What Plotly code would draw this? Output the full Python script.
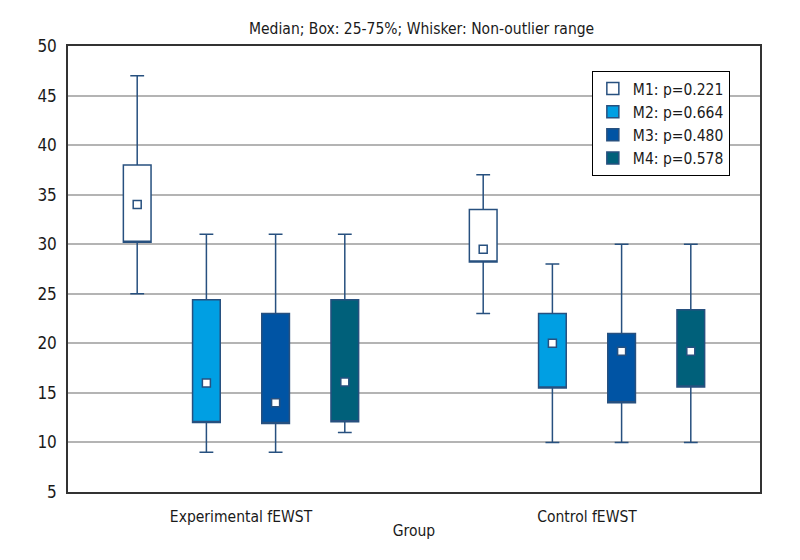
import plotly.graph_objects as go

groups = ["Experimental fEWST", "Control fEWST"]
series = ["M1: p=0.221", "M2: p=0.664", "M3: p=0.480", "M4: p=0.578"]
colors = ["#ffffff", "#009fe3", "#0054a4", "#00607a"]

# per series: [experimental, control]
lower = [[25, 23], [9, 10], [9, 10], [11, 10]]
q1 = [[30.2, 28.2], [12, 15.5], [11.9, 14], [12.1, 15.6]]
median = [[34, 29.5], [16, 20], [14, 19.2], [16.1, 19.2]]
q3 = [[38, 33.5], [24.4, 23], [23, 21], [24.4, 23.4]]
upper = [[47, 37], [31, 28], [31, 30], [31, 30]]

FONT = ("Liberation Sans Narrow, DejaVu Sans Condensed, Noto Sans Condensed, "
        "Roboto Condensed, Open Sans Condensed, Roboto, sans-serif")
LINE = "#27507f"

fig = go.Figure()
for i, name in enumerate(series):
    # median passed as q1 so plotly's median line hides on the box edge;
    # the real median is drawn as a square marker below
    fig.add_trace(go.Box(
        x=groups, q1=q1[i], median=q1[i], q3=q3[i],
        lowerfence=lower[i], upperfence=upper[i],
        name=name, offsetgroup=str(i), alignmentgroup="a",
        fillcolor=colors[i], line=dict(color=LINE, width=1.5),
        whiskerwidth=0.5, boxpoints=False, hoverinfo="skip"))
    fig.add_trace(go.Scatter(
        x=groups, y=median[i], mode="markers", showlegend=False,
        offsetgroup=str(i), alignmentgroup="a", name=name,
        marker=dict(symbol="square", size=8, color="white",
                    line=dict(color=LINE, width=1.5))))

# page body has an 8px margin, so margins are shifted by that much
fig.update_layout(
    width=800, height=560, plot_bgcolor="white", paper_bgcolor="white",
    boxmode="group", boxgap=0.2, boxgroupgap=0.6,
    scattermode="group", scattergap=0.2,
    margin=dict(l=60, r=48, t=38, b=76),
    font=dict(family=FONT, size=15.5, color="#1a1a1a"),
    title=dict(text="Median; Box: 25-75%; Whisker: Non-outlier range",
               x=0.517, xanchor="center", y=0.9625, yanchor="middle",
               font=dict(size=15.5)),
    legend=dict(x=0.757, y=0.944, xanchor="left", yanchor="top",
                bordercolor="black", borderwidth=1, bgcolor="white",
                font=dict(size=15.5), tracegroupgap=0))
fig.update_xaxes(title=dict(text="Group", standoff=0, font=dict(size=15.5)),
                 showline=True, linecolor="#333", linewidth=1.5, mirror=True,
                 showgrid=False, ticks="", ticklabelstandoff=10,
                 tickfont=dict(size=15.5))
fig.update_yaxes(range=[5, 50], dtick=5, showline=True, linecolor="#333",
                 linewidth=1.5, mirror=True, gridcolor="#b4b4b4", gridwidth=1.5,
                 zeroline=False, ticks="", ticklabelstandoff=6,
                 tickfont=dict(size=17))

fig.write_html("out.html")
